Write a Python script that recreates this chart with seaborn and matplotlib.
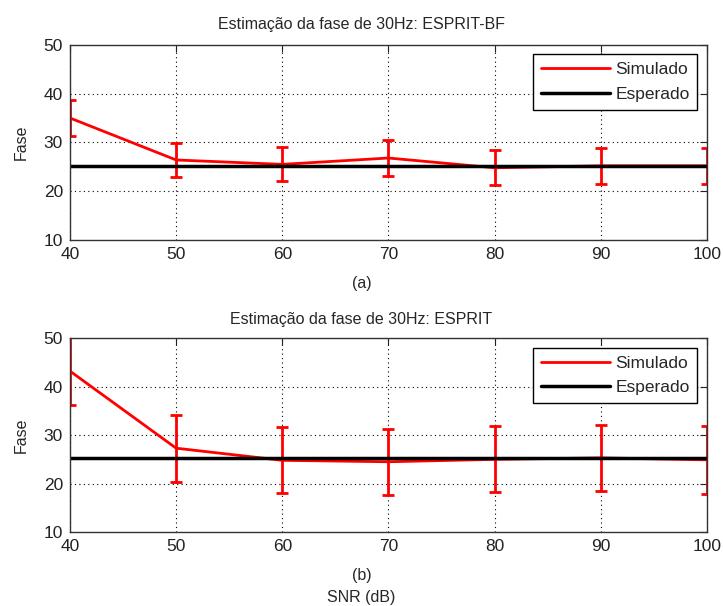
import numpy as np
import pandas as pd
import matplotlib
matplotlib.use("Agg")
import matplotlib.pyplot as plt
import seaborn as sns

# SNR (dB)
snr = [40, 50, 60, 70, 80, 90, 100]

# (a) ESPRIT-BF
fase_bf = [35.0, 26.4, 25.5, 26.8, 24.8, 25.2, 25.2]
erro_bf = [3.7, 3.5, 3.5, 3.6, 3.6, 3.7, 3.7]

# (b) ESPRIT
fase_esp = [43.2, 27.3, 24.8, 24.5, 25.0, 25.3, 24.9]
erro_esp = [6.95, 6.9, 6.8, 6.8, 6.8, 6.8, 7.0]

esperado = 25.25

titulos = ["Estimação da fase de 30Hz: ESPRIT-BF", "Estimação da fase de 30Hz: ESPRIT"]
rotulos_x = ["(a)", "(b)\nSNR (dB)"]

sns.set_style("white")
plt.rcParams['font.family'] = ['Liberation Sans', 'DejaVu Sans']

fig = plt.figure(figsize=(7.23, 6.06), dpi=100)
ax_a = fig.add_axes([0.0968, 0.604, 0.881, 0.322])
ax_b = fig.add_axes([0.0968, 0.122, 0.881, 0.320])

# texto centrado na figura, nao no eixo
x_centro = 0.4576


def painel(ax, fase, erro, titulo, rotulo, pad_titulo):
    df = pd.DataFrame({"SNR": snr, "Fase": fase, "Esperado": [esperado] * len(snr)})
    sns.lineplot(data=df, x="SNR", y="Fase", ax=ax, color="red", lw=2, label="Simulado")
    ax.errorbar(snr, fase, yerr=erro, fmt="none", ecolor="red", elinewidth=2,
                capsize=4, capthick=2)
    sns.lineplot(data=df, x="SNR", y="Esperado", ax=ax, color="black", lw=2.5, label="Esperado")

    ax.set_xlim(40, 100)
    ax.set_ylim(10, 50)
    ax.set_xticks(snr)
    ax.set_yticks([10, 20, 30, 40, 50])
    ax.grid(True, color="black", linestyle=(0, (1, 3)), lw=0.8)
    ax.tick_params(direction="in", length=5, top=True, right=True, labelsize=12.5,
                   colors="#222222", pad=5)
    for s in ax.spines.values():
        s.set_color("#333333")
        s.set_linewidth(1.0)

    ax.set_title(titulo, fontsize=11.5, pad=pad_titulo, x=x_centro)
    ax.set_xlabel(rotulo, fontsize=11.5, labelpad=10, linespacing=1.55)
    ax.xaxis.label.set_x(x_centro)
    ax.set_ylabel("Fase", fontsize=11.5, labelpad=11)

    leg = ax.legend(loc="upper right", fontsize=12.5, handlelength=4.0, fancybox=False,
                    framealpha=1, edgecolor="black", borderaxespad=0.55,
                    handletextpad=0.3, labelspacing=0.55, borderpad=0.45)
    leg.get_frame().set_linewidth(1.0)


painel(ax_a, fase_bf, erro_bf, titulos[0], rotulos_x[0], 11.5)
painel(ax_b, fase_esp, erro_esp, titulos[1], rotulos_x[1], 10)

fig.savefig("out.png", dpi=100)
